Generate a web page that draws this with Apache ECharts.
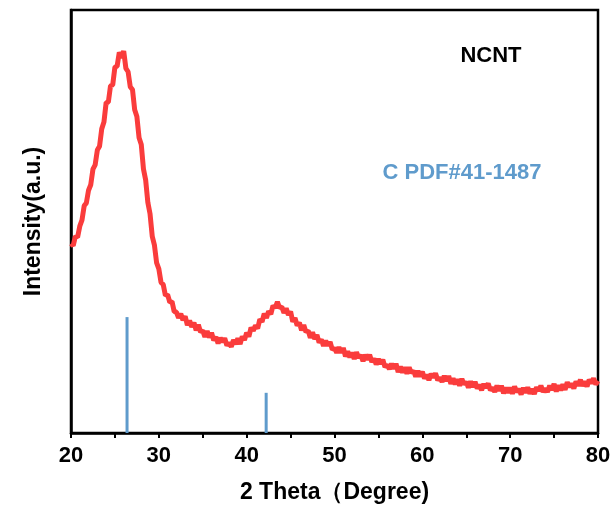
<!DOCTYPE html>
<html>
<head>
<meta charset="utf-8">
<script src="https://cdn.jsdelivr.net/npm/echarts@6/dist/echarts.min.js"></script>
<style>html,body{margin:0;padding:0;background:#fff}#c{width:616px;height:524px}</style>
</head>
<body>
<div id="c"></div>
<script>
// 2-theta start and step for the measured pattern
var thetaStart = 20;
var thetaStep = 0.25;
// NCNT intensity (a.u.), every 0.25 deg from 20 to 80
var ncntIntensity = [
44.8,44.3,46.5,46.3,48.9,50.3,53.7,54.4,
57.4,58.7,62.4,63.4,66.9,67.8,71.9,73.5,
78.1,78.2,82.1,82.3,86.5,86.7,90.0,88.7,
90.3,86.2,85.4,81.8,81.2,76.4,74.8,69.8,
68.2,62.4,59.8,54.5,51.8,46.5,44.4,40.2,
38.8,35.6,35.1,32.5,32.7,30.9,31.1,28.7,
28.6,27.2,28.2,26.7,27.6,25.5,26.6,25.1,
26.1,24.3,25.6,23.9,24.2,22.7,24.1,22.6,
23.7,21.9,22.7,21.2,22.5,21.5,22.4,20.7,
21.3,20.4,22.0,21.0,22.4,21.0,22.8,22.0,
23.7,22.8,24.9,24.2,25.4,24.7,26.9,26.3,
28.2,27.2,28.8,28.1,30.1,29.6,31.0,29.6,
29.8,28.4,29.5,27.9,28.7,26.3,27.2,25.4,
26.1,24.3,25.5,23.9,24.2,22.5,23.8,22.2,
23.2,21.4,22.1,20.6,21.8,20.7,21.5,19.7,
20.1,19.0,20.3,19.0,20.1,18.1,19.3,17.9,
19.0,17.5,19.1,17.8,18.4,17.0,18.5,17.3,
18.5,16.8,17.6,16.2,17.5,16.4,17.3,15.6,
16.1,15.1,16.4,15.2,16.4,14.4,15.7,14.3,
15.5,14.0,15.5,14.2,14.7,13.3,14.7,13.4,
14.5,12.9,13.8,12.5,14.0,13.1,14.1,12.5,
13.1,12.1,13.5,12.3,13.5,11.6,12.9,11.5,
12.7,11.2,12.8,11.5,12.1,10.7,12.2,10.9,
12.1,10.5,11.4,10.1,11.6,10.7,11.7,10.1,
10.7,9.7,11.2,10.0,11.2,9.4,10.7,9.5,
10.7,9.3,11.0,9.7,10.4,9.1,10.7,9.5,
10.8,9.3,10.4,9.2,10.8,10.0,11.2,9.7,
10.5,9.7,11.2,10.2,11.6,9.8,11.3,10.1,
11.5,10.2,12.0,10.9,11.7,10.5,12.2,11.2,
12.6,11.1,12.2,11.0,12.6,11.8,12.9,11.5,
12.3
];
// Reference card C PDF#41-1487 stick positions and heights
var refTheta = [26.38, 42.22];
var refIntensity = [27.4, 9.5];
var xTicks = [20, 30, 40, 50, 60, 70, 80];

var curve = ncntIntensity.map(function (v, i) { return [thetaStart + i * thetaStep, v]; });
var sticks = refTheta.map(function (t, i) { return [t, refIntensity[i]]; });

var FONT = '"Liberation Sans", Arial, sans-serif';
var chart = echarts.init(document.getElementById('c'), null, {renderer: 'canvas'});
chart.setOption({
  backgroundColor: '#ffffff',
  animation: false,
  grid: {left: 71, right: 18, top: 10, bottom: 91, show: true, borderColor: '#000', borderWidth: 2.5, backgroundColor: 'transparent'},
  xAxis: {
    type: 'value', min: 20, max: 80, interval: 10,
    name: '2 Theta（Degree)', nameLocation: 'middle', nameGap: 48,
    nameTextStyle: {fontFamily: FONT, fontWeight: 'bold', fontSize: 23, color: '#000'},
    axisLine: {show: true, lineStyle: {color: '#000', width: 2.5}},
    axisTick: {show: true, length: 5, lineStyle: {color: '#000', width: 2}},
    minorTick: {show: true, splitNumber: 2, length: 5, lineStyle: {color: '#000', width: 2}},
    splitLine: {show: false},
    axisLabel: {fontFamily: FONT, fontWeight: 'bold', fontSize: 22, color: '#000', margin: 12,
      formatter: function (v) { return xTicks.indexOf(v) >= 0 ? String(v) : ''; }}
  },
  yAxis: {
    type: 'value', min: 0, max: 100,
    name: 'Intensity(a.u.)', nameLocation: 'middle', nameGap: 26,
    nameTextStyle: {fontFamily: FONT, fontWeight: 'bold', fontSize: 23, color: '#000'},
    axisLine: {show: true, lineStyle: {color: '#000', width: 2.5}},
    axisTick: {show: false}, axisLabel: {show: false}, splitLine: {show: false}
  },
  series: [
    {
      type: 'bar', data: sticks, barWidth: 3, z: 1,
      itemStyle: {color: '#5f9bcc'}, silent: true
    },
    {
      type: 'line', data: curve, showSymbol: false, z: 2,
      lineStyle: {color: '#fa3c3c', width: 5}, silent: true
    }
  ],
  graphic: [
    {type: 'text', style: {text: 'NCNT', x: 491, y: 56, font: 'bold 22px ' + FONT, fill: '#000', textAlign: 'center', textVerticalAlign: 'middle'}},
    {type: 'text', style: {text: 'C PDF#41-1487', x: 462, y: 173, font: 'bold 22px ' + FONT, fill: '#5f9bcc', textAlign: 'center', textVerticalAlign: 'middle'}}
  ]
});
</script>
</body>
</html>
